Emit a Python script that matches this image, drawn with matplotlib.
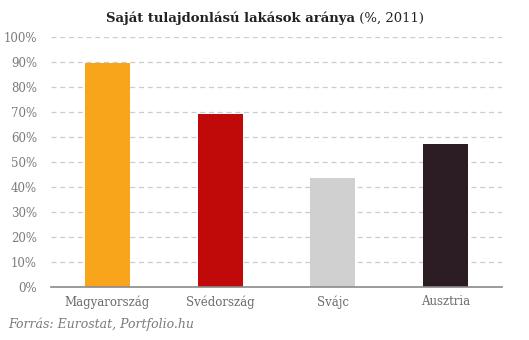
import matplotlib
matplotlib.use("Agg")
import matplotlib.pyplot as plt

categories = ["Magyarország", "Svédország", "Svájc", "Ausztria"]
values = [89.8, 69.3, 43.8, 57.3]
colors = ["#F9A51C", "#C00A0A", "#D0D0D0", "#2C1D24"]
yticks = [0, 10, 20, 30, 40, 50, 60, 70, 80, 90, 100]
ytick_labels = [f"{v}%" for v in yticks]

plt.rcParams['font.family'] = ['DejaVu Serif']

fig = plt.figure(figsize=(5.29, 3.40), dpi=100)
ax = fig.add_axes([51/529, 1-287/340, (502-51)/529, (287-37)/340])

x = range(len(categories))
ax.bar(x, values, width=0.4, color=colors, zorder=3)
ax.set_xlim(-0.5, len(categories)-0.5)
ax.set_ylim(0, 100)
ax.set_yticks(yticks)
ax.set_yticklabels(ytick_labels, color="#7a7a7a", fontsize=8.5)
ax.set_xticks(list(x))
ax.set_xticklabels(categories, color="#6a6a6a", fontsize=8.5)
ax.tick_params(axis='both', length=0, pad=6)
ax.tick_params(axis='y', pad=10)
for s in ["top", "right", "left"]:
    ax.spines[s].set_visible(False)
ax.spines["bottom"].set_color("#8a8a8a")
ax.spines["bottom"].set_linewidth(1.2)
ax.spines["bottom"].set_zorder(4)
ax.yaxis.grid(True, color="#cccccc", linestyle=(0, (4, 3)), linewidth=0.9, zorder=0)
ax.set_axisbelow(True)

fig.canvas.draw()
r = fig.canvas.get_renderer()
t1 = fig.text(0, 0, "Saját tulajdonlású lakások aránya", fontsize=9.5, fontweight="bold", color="#222222")
t2 = fig.text(0, 0, " (%, 2011)", fontsize=9.5, color="#222222")
w1 = t1.get_window_extent(r).width
w2 = t2.get_window_extent(r).width
total = w1 + w2
x0 = (265 - total/2)
ypos = 1 - 22/340
t1.set_position((x0/529, ypos))
t2.set_position(((x0 + w1)/529, ypos))

fig.text(8/529, 1-328/340, "Forrás: Eurostat, Portfolio.hu", fontsize=9, style="italic", color="#7a7a7a")

fig.savefig("out.png", dpi=100)
